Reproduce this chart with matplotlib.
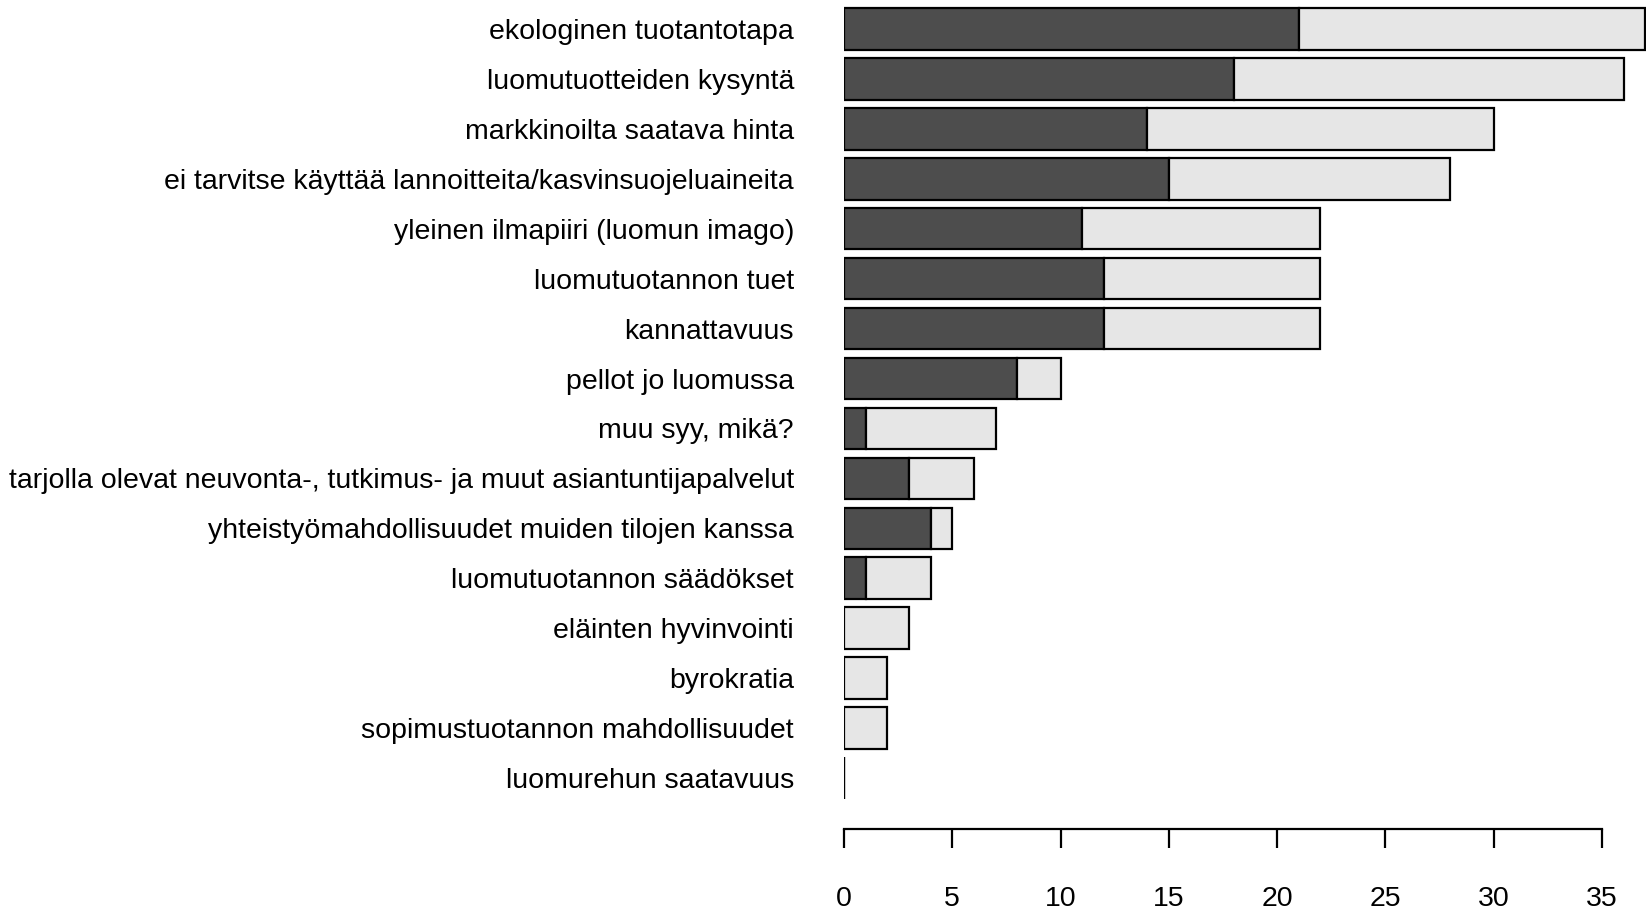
import matplotlib
matplotlib.use("Agg")
import matplotlib.pyplot as plt

categories = [
    "ekologinen tuotantotapa",
    "luomutuotteiden kysyntä",
    "markkinoilta saatava hinta",
    "ei tarvitse käyttää lannoitteita/kasvinsuojeluaineita",
    "yleinen ilmapiiri (luomun imago)",
    "luomutuotannon tuet",
    "kannattavuus",
    "pellot jo luomussa",
    "muu syy, mikä?",
    "tarjolla olevat neuvonta-, tutkimus- ja muut asiantuntijapalvelut",
    "yhteistyömahdollisuudet muiden tilojen kanssa",
    "luomutuotannon säädökset",
    "eläinten hyvinvointi",
    "byrokratia",
    "sopimustuotannon mahdollisuudet",
    "luomurehun saatavuus",
]
dark_values = [21, 18, 14, 15, 11, 12, 12, 8, 1, 3, 4, 1, 0, 0, 0, 0]
light_values = [16, 18, 16, 13, 11, 10, 10, 2, 6, 3, 1, 3, 3, 2, 2, 0]
x_ticks = [0, 5, 10, 15, 20, 25, 30, 35]

W, H = 1646, 910
fig = plt.figure(figsize=(W / 100, H / 100), dpi=100)
plt.rcParams['font.family'] = ['Liberation Sans', 'DejaVu Sans']

left = 844 / W
bottom = 1 - 829 / H
ax = fig.add_axes([left, bottom, 1 - left, 1 - bottom])

pos = list(range(len(categories)))
h = 0.833
ax.barh(pos, dark_values, height=h, color="#4D4D4D", edgecolor="black", linewidth=1.6)
ax.barh(pos, light_values, left=dark_values, height=h, color="#E6E6E6",
        edgecolor="black", linewidth=1.6)

ax.set_xlim(0, 37.03)
ax.set_ylim(16.02, -0.579)

for s in ["top", "right", "left"]:
    ax.spines[s].set_visible(False)
ax.spines["bottom"].set_bounds(0, 35)
ax.spines["bottom"].set_linewidth(1.6)

ax.set_yticks(pos)
ax.set_yticklabels(categories, fontsize=20.5)
ax.tick_params(axis="y", length=0, pad=36)

ax.set_xticks(x_ticks)
ax.set_xticklabels([str(t) for t in x_ticks], fontsize=20.5)
ax.tick_params(axis="x", length=13.7, width=1.6, pad=27)

fig.savefig("out.png", dpi=100)
